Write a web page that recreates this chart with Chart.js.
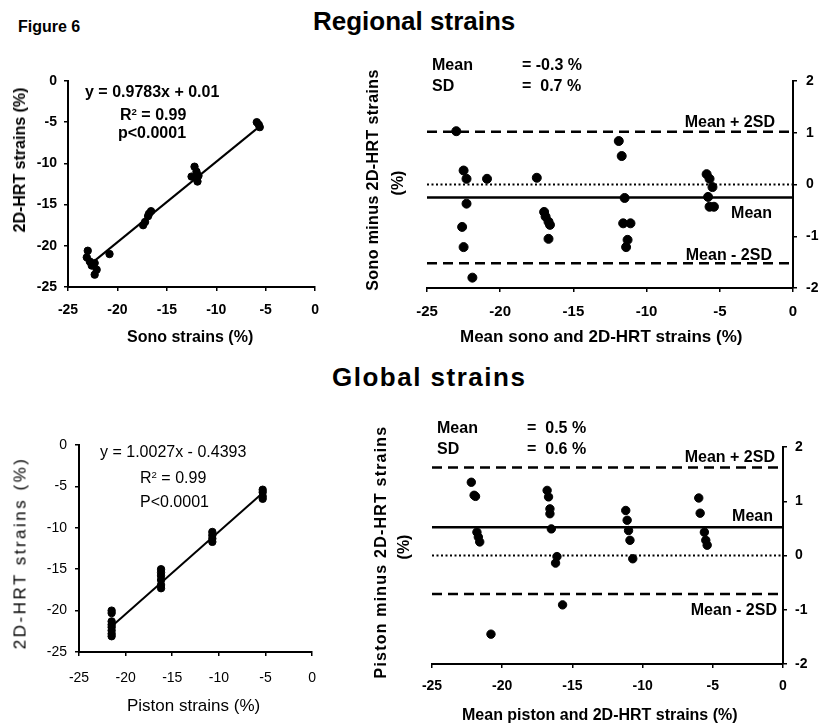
<!DOCTYPE html>
<html>
<head>
<meta charset="utf-8">
<script src="https://cdn.jsdelivr.net/npm/chart.js@4.4.1/dist/chart.umd.min.js"></script>
<style>
  body { margin: 0; background: #fff; }
  #fig { position: relative; width: 820px; height: 728px; overflow: hidden;
         font-family: Arial, "Liberation Sans", sans-serif; color: #000; }
  canvas { position: absolute; }
  .t { position: absolute; white-space: nowrap; line-height: 1; transform: translateY(-50%); }
  .b { font-weight: bold; }
  .r { transform: translate(-100%, -50%); }
  .v { transform: translate(-50%, -50%) rotate(-90deg); }
  sup { font-size: 60%; line-height: 0; vertical-align: 0.55em; }
</style>
</head>
<body>
<div id="fig">
  <div class="t b" style="left:18px;top:27px;font-size:16px">Figure 6</div>
  <div class="t b" style="left:313px;top:21px;font-size:26px">Regional strains</div>
  <div class="t b" style="left:332px;top:377px;font-size:26px;letter-spacing:1.5px">Global strains</div>

  <!-- regional: regression -->
  <canvas id="regionalFit" width="330" height="290" style="left:0;top:60px"></canvas>
  <div class="t b" style="left:85px;top:92px;font-size:16px">y = 0.9783x + 0.01</div>
  <div class="t b" style="left:120px;top:115px;font-size:16px">R<sup>2</sup> = 0.99</div>
  <div class="t b" style="left:118px;top:133px;font-size:16px">p&lt;0.0001</div>
  <div class="t b v" style="left:20px;top:160px;font-size:16px">2D-HRT strains (%)</div>
  <div class="t b" style="left:127px;top:337px;font-size:16px">Sono strains (%)</div>

  <!-- regional: Bland-Altman -->
  <canvas id="regionalBA" width="480" height="300" style="left:340px;top:60px"></canvas>
  <div class="t b" style="left:432px;top:65px;font-size:16px">Mean</div>
  <div class="t b" style="left:522px;top:65px;font-size:16px">= -0.3 %</div>
  <div class="t b" style="left:432px;top:86px;font-size:16px">SD</div>
  <div class="t b" style="left:522px;top:86px;font-size:16px">=&nbsp; 0.7 %</div>
  <div class="t b r" style="left:775px;top:122px;font-size:16px">Mean + 2SD</div>
  <div class="t b r" style="left:772px;top:213px;font-size:16px">Mean</div>
  <div class="t b r" style="left:772px;top:255px;font-size:16px">Mean - 2SD</div>
  <div class="t b v" style="left:373px;top:180px;font-size:16px;letter-spacing:0.4px">Sono minus 2D-HRT strains</div>
  <div class="t b v" style="left:398px;top:183px;font-size:16px">(%)</div>
  <div class="t b" style="left:460px;top:336px;font-size:17px">Mean sono and 2D-HRT strains (%)</div>

  <!-- global: regression -->
  <canvas id="globalFit" width="330" height="308" style="left:0;top:420px"></canvas>
  <div class="t" style="left:100px;top:452px;font-size:16px">y = 1.0027x - 0.4393</div>
  <div class="t" style="left:140px;top:478px;font-size:16px">R<sup>2</sup> = 0.99</div>
  <div class="t" style="left:140px;top:502px;font-size:16px">P&lt;0.0001</div>
  <div class="t v" style="left:20px;top:553px;font-size:17px;letter-spacing:2.5px">2D-HRT strains (%)</div>
  <div class="t" style="left:127px;top:705px;font-size:17px">Piston strains (%)</div>

  <!-- global: Bland-Altman -->
  <canvas id="globalBA" width="480" height="328" style="left:340px;top:400px"></canvas>
  <div class="t b" style="left:437px;top:428px;font-size:16px">Mean</div>
  <div class="t b" style="left:527px;top:428px;font-size:16px">=&nbsp; 0.5 %</div>
  <div class="t b" style="left:437px;top:449px;font-size:16px">SD</div>
  <div class="t b" style="left:527px;top:449px;font-size:16px">=&nbsp; 0.6 %</div>
  <div class="t b r" style="left:775px;top:457px;font-size:16px">Mean + 2SD</div>
  <div class="t b r" style="left:773px;top:516px;font-size:16px">Mean</div>
  <div class="t b r" style="left:777px;top:610px;font-size:16px">Mean - 2SD</div>
  <div class="t b v" style="left:381px;top:552px;font-size:16px;letter-spacing:1.2px">Piston minus 2D-HRT strains</div>
  <div class="t b v" style="left:404px;top:547px;font-size:16px">(%)</div>
  <div class="t b" style="left:462px;top:715px;font-size:16px">Mean piston and 2D-HRT strains (%)</div>
</div>

<script>
const FONT = 'Arial, "Liberation Sans", sans-serif';

// Regional strains: sonomicrometry vs 2D-HRT
const sonoStrain  = [-23.1, -23.0, -22.8, -22.3, -22.1, -22.3, -22.6, -20.8,
                     -17.4, -17.2, -16.9, -16.6, -16.8,
                     -12.5, -12.2, -12.0, -11.8, -11.9,
                     -5.9, -5.7, -5.6];
const hrtRegional = [-21.4, -20.6, -21.9, -22.1, -22.9, -23.5, -22.4, -21.0,
                     -17.5, -17.1, -16.4, -15.8, -16.1,
                     -11.6, -10.4, -11.0, -11.5, -12.2,
                     -5.0, -5.3, -5.6];
const regionalFitX = [-22.6, -5.7];
const regionalFitY = [-22.1, -5.6];

// Regional Bland-Altman: mean of methods vs difference
const regionalMeanX = [-23.0, -22.5, -22.3, -22.3, -22.6, -22.5, -21.9, -20.9,
                       -17.5, -17.0, -16.9, -16.7, -16.6, -16.7,
                       -11.9, -11.7, -11.5, -11.6, -11.1, -11.3, -11.4,
                       -5.9, -5.7, -5.5, -5.8, -5.7, -5.4];
const regionalDiff  = [1.03, 0.27, 0.11, -0.37, -0.82, -1.21, -1.80, 0.11,
                       0.13, -0.53, -0.62, -0.72, -0.78, -1.05,
                       0.84, 0.55, -0.26, -0.75, -0.75, -1.07, -1.21,
                       0.20, 0.11, -0.05, -0.24, -0.43, -0.43];
const regionalLimits = [1.02, -0.25, -1.52];   // mean + 2SD, mean, mean - 2SD

// Global strains: piston vs 2D-HRT
const pistonStrain = [-21.5, -21.5, -21.5, -21.5, -21.5, -21.5, -21.5, -21.5,
                      -16.2, -16.2, -16.2, -16.2, -16.2, -16.2,
                      -10.7, -10.7, -10.7, -10.7,
                      -5.3, -5.3, -5.3, -5.3];
const hrtGlobal    = [-20.0, -20.3, -21.3, -21.7, -22.0, -22.4, -22.8, -23.1,
                      -15.0, -15.4, -15.8, -16.3, -16.9, -17.3,
                      -10.5, -10.9, -11.3, -11.7,
                      -5.4, -5.7, -6.2, -6.5];
const globalFitX = [-21.6, -5.4];
const globalFitY = [-22.0, -5.9];

// Global Bland-Altman
const globalMeanX = [-22.2, -22.0, -21.9, -21.8, -21.7, -21.6, -20.8,
                     -16.8, -16.7, -16.6, -16.6, -16.5, -16.1, -16.2, -15.7,
                     -11.2, -11.1, -11.0, -10.9, -10.7,
                     -6.0, -5.9, -5.6, -5.5, -5.4];
const globalDiff  = [1.35, 1.11, 1.09, 0.43, 0.34, 0.25, -1.45,
                     1.20, 1.08, 0.86, 0.77, 0.49, -0.02, -0.14, -0.91,
                     0.83, 0.65, 0.46, 0.28, -0.06,
                     1.06, 0.78, 0.43, 0.28, 0.19];
const globalLimits = [1.62, 0.52, -0.71];

const strainRange = [-25, 0];

function pts(xs, ys) {
    return xs.map((x, i) => ({ x: x, y: ys[i] }));
}

function dots(xs, ys, r) {
    return { data: pts(xs, ys), backgroundColor: '#000', borderColor: '#000',
             pointRadius: r, pointHoverRadius: r, showLine: false };
}

function line(xs, ys, width, dash) {
    return { data: pts(xs, ys), showLine: true, borderColor: '#000', borderWidth: width,
             borderDash: dash || [], pointRadius: 0, pointHoverRadius: 0, fill: false };
}

// axis with black border, short tick marks and fixed box size
function axis(o) {
    return {
        type: 'linear',
        position: o.position,
        min: o.min,
        max: o.max,
        ticks: {
            stepSize: o.step,
            color: '#000',
            padding: o.pad,
            font: { family: FONT, size: o.size, weight: o.bold ? 'bold' : 'normal' }
        },
        grid: { display: true, drawOnChartArea: false, drawTicks: true,
                tickLength: 4, color: '#000', lineWidth: 1.5 },
        border: { display: true, color: '#000', width: 2 },
        afterFit: (scale) => {
            if (o.position === 'bottom') scale.height = o.box;
            else scale.width = o.box;
        }
    };
}

function makeChart(id, datasets, padding, xAxis, yAxis) {
    const ctx = document.getElementById(id).getContext('2d');
    return new Chart(ctx, {
        type: 'scatter',
        data: { datasets: datasets },
        options: {
            responsive: false,
            animation: false,
            layout: { padding: padding },
            plugins: { legend: { display: false }, tooltip: { enabled: false } },
            scales: { x: xAxis, y: yAxis }
        }
    });
}

function baLines(limits) {
    return [
        line(strainRange, [limits[0], limits[0]], 2.5, [10, 6]),
        line(strainRange, [limits[1], limits[1]], 2.5),
        line(strainRange, [0, 0], 1.8, [2, 2.5]),
        line(strainRange, [limits[2], limits[2]], 2.5, [10, 6])
    ];
}

makeChart('regionalFit',
    [dots(sonoStrain, hrtRegional, 3.7), line(regionalFitX, regionalFitY, 2)],
    { left: 0, top: 21, right: 13, bottom: 0 },
    axis({ position: 'bottom', min: -25, max: 0, step: 5, size: 14, bold: true, pad: 11, box: 63 }),
    axis({ position: 'left', min: -25, max: 0, step: 5, size: 14, bold: true, pad: 7, box: 68 }));

makeChart('regionalBA',
    [...baLines(regionalLimits), dots(regionalMeanX, regionalDiff, 4.5)],
    { left: 87, top: 21, right: 0, bottom: 0 },
    axis({ position: 'bottom', min: -25, max: 0, step: 5, size: 15, bold: true, pad: 11, box: 72 }),
    axis({ position: 'right', min: -2, max: 2, step: 1, size: 14, bold: true, pad: 9, box: 27 }));

makeChart('globalFit',
    [dots(pistonStrain, hrtGlobal, 3.7), line(globalFitX, globalFitY, 2)],
    { left: 0, top: 25, right: 11, bottom: 0 },
    axis({ position: 'bottom', min: -25, max: 0, step: 5, size: 14, bold: false, pad: 14, box: 76 }),
    axis({ position: 'left', min: -25, max: 0, step: 5, size: 14, bold: false, pad: 8, box: 79 }));

makeChart('globalBA',
    [...baLines(globalLimits), dots(globalMeanX, globalDiff, 4.2)],
    { left: 92, top: 47, right: 0, bottom: 0 },
    axis({ position: 'bottom', min: -25, max: 0, step: 5, size: 14, bold: true, pad: 10, box: 64 }),
    axis({ position: 'right', min: -2, max: 2, step: 1, size: 14, bold: true, pad: 8, box: 37 }));
</script>
</body>
</html>
